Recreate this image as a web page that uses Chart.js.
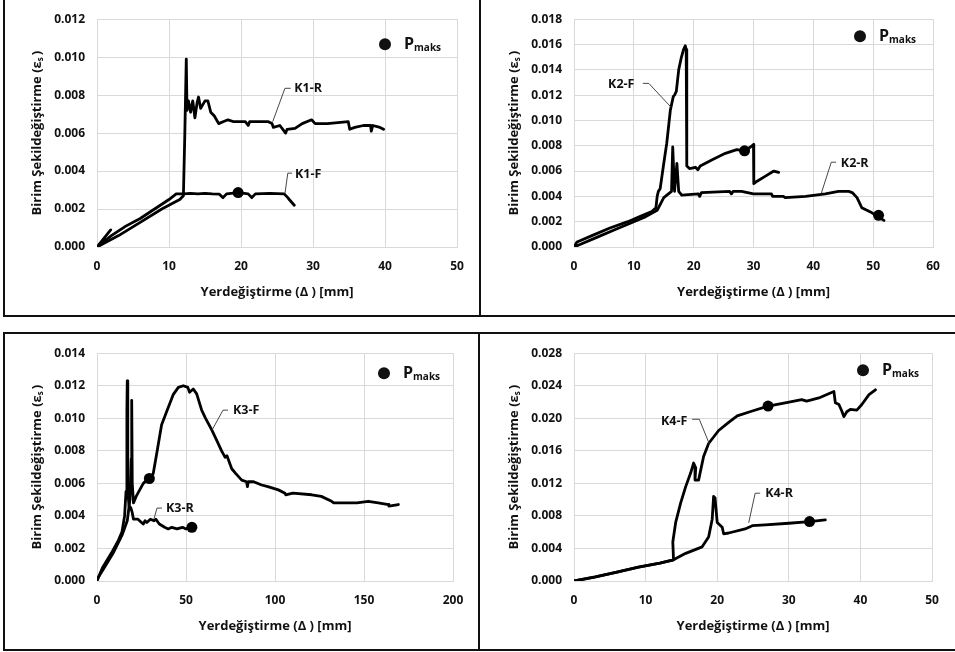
<!DOCTYPE html>
<html lang="tr">
<head>
<meta charset="utf-8">
<title>Birim şekildeğiştirme - yerdeğiştirme</title>
<script src="https://cdn.jsdelivr.net/npm/chart.js@4.4.1/dist/chart.umd.min.js"></script>
<style>
  body { margin: 0; background: #fff; }
  #sheet { position: relative; width: 955px; height: 652px; overflow: hidden; background: #fff; }
  #sheet canvas { position: absolute; }
  .rule { position: absolute; background: #111; }
</style>
</head>
<body>
<div id="sheet">
  <div class="rule" style="left:3px;top:0;width:2px;height:317px"></div>
  <div class="rule" style="left:479px;top:0;width:2px;height:317px"></div>
  <div class="rule" style="left:3px;top:315px;width:952px;height:2px"></div>
  <div class="rule" style="left:3px;top:332px;width:952px;height:2px"></div>
  <div class="rule" style="left:3px;top:332px;width:2px;height:319px"></div>
  <div class="rule" style="left:478px;top:332px;width:2px;height:319px"></div>
  <div class="rule" style="left:3px;top:649px;width:952px;height:2px"></div>

  <canvas id="c1" width="474" height="316" style="left:5px;top:0"></canvas>
  <canvas id="c2" width="474" height="316" style="left:481px;top:0"></canvas>
  <canvas id="c3" width="471" height="315" style="left:5px;top:334px"></canvas>
  <canvas id="c4" width="473" height="315" style="left:482px;top:334px"></canvas>
</div>

<script>
// ---- K1 ----
const k1xTicks = [0, 10, 20, 30, 40, 50];
const k1yTicks = [0, 0.002, 0.004, 0.006, 0.008, 0.010, 0.012];
const k1fX = [1.9, 0, 2, 4, 6, 8, 10, 11, 12, 13, 14, 15, 16, 17, 17.5, 18, 19.6, 21, 21.5, 22, 24, 26, 26.5, 26.7, 27.4];
const k1fY = [0.0009, 0, 0.0006, 0.0011, 0.0015, 0.0020, 0.0025, 0.0028, 0.0028, 0.00282, 0.0028, 0.00283, 0.0028, 0.00278, 0.0026, 0.0028, 0.00287, 0.0028, 0.0026, 0.0028, 0.00283, 0.0028, 0.0026, 0.0025, 0.0022];
const k1rX = [0, 3, 6, 9, 10.5, 11.5, 12, 12.2, 12.4, 12.5, 12.7, 13, 13.3, 13.6, 13.9, 14.1, 14.4, 15, 15.4, 15.8, 16.3, 16.9, 17.5, 18.2, 19, 20.6, 21, 21.2, 23.8, 24.3, 24.5, 25.4, 26.2, 26.4, 27.5, 28.5, 29.8, 30.3, 32, 34.9, 35.1, 35.8, 37, 38, 38.1, 38.3, 39.3, 39.8];
const k1rY = [0, 0.0006, 0.0013, 0.0020, 0.0023, 0.0025, 0.0027, 0.0060, 0.0099, 0.0072, 0.0077, 0.0071, 0.0077, 0.0068, 0.0076, 0.0079, 0.0073, 0.0077, 0.0077, 0.0071, 0.0069, 0.0065, 0.0066, 0.0067, 0.0066, 0.0066, 0.0064, 0.0066, 0.0066, 0.0065, 0.0063, 0.0064, 0.0060, 0.0062, 0.00625, 0.0065, 0.0067, 0.0065, 0.0065, 0.0066, 0.0062, 0.0063, 0.0064, 0.0064, 0.0061, 0.0064, 0.0063, 0.0062];
const k1pX = [19.6];
const k1pY = [0.00287];

// ---- K2 ----
const k2xTicks = [0, 10, 20, 30, 40, 50, 60];
const k2yTicks = [0, 0.002, 0.004, 0.006, 0.008, 0.010, 0.012, 0.014, 0.016, 0.018];
const k2fX = [0, 0.5, 1, 3, 6, 9, 11, 13, 13.7, 13.9, 14.1, 14.4, 15, 15.5, 16.1, 16.6, 16.8, 17.1, 17.5, 17.9, 18.3, 18.6, 18.75, 18.85, 19.3, 20.3, 20.7, 21.1, 23.1, 25.3, 27.2, 28.5, 29.5, 30.0, 30.05, 30.6, 32, 33.4, 34.2];
const k2fY = [0, 0.0004, 0.0005, 0.0009, 0.0015, 0.0020, 0.0024, 0.0028, 0.0031, 0.0040, 0.0044, 0.0046, 0.0066, 0.0082, 0.0108, 0.0119, 0.0120, 0.0123, 0.0140, 0.0149, 0.0156, 0.0159, 0.0156, 0.0064, 0.0062, 0.0063, 0.0061, 0.0064, 0.0069, 0.0074, 0.0077, 0.0076, 0.0079, 0.0081, 0.0050, 0.0052, 0.0056, 0.0060, 0.0059];
const k2rX = [0, 1, 4, 7, 10, 12, 13.9, 15, 16.3, 16.5, 16.8, 17.2, 17.5, 18, 20.8, 21, 21.3, 26, 26.3, 26.6, 28, 30, 33, 33.2, 35, 35.3, 38.7, 42, 44.2, 45.9, 46.5, 47.3, 48.1, 49.8, 50.8, 51.8];
const k2rY = [0, 0.0002, 0.0008, 0.0014, 0.0020, 0.0024, 0.0029, 0.0039, 0.0044, 0.0079, 0.0044, 0.0066, 0.0044, 0.0041, 0.0042, 0.0040, 0.0043, 0.0044, 0.0042, 0.0044, 0.0044, 0.0042, 0.0042, 0.0040, 0.0040, 0.0039, 0.0040, 0.0042, 0.0044, 0.0044, 0.0043, 0.0039, 0.0031, 0.0027, 0.0024, 0.0021];
const k2pX = [28.5, 50.9];
const k2pY = [0.0076, 0.0025];

// ---- K3 ----
const k3xTicks = [0, 50, 100, 150, 200];
const k3yTicks = [0, 0.002, 0.004, 0.006, 0.008, 0.010, 0.012, 0.014];
const k3rX = [0, 3, 8, 12, 14, 15.5, 16.3, 16.8, 17.0, 17.3, 18, 19, 19.8, 20.5, 21.5, 23, 25, 26, 27, 28, 30, 32, 33, 35, 38, 40, 42, 45, 48, 50, 53.3];
const k3rY = [0, 0.0008, 0.0017, 0.0025, 0.0030, 0.0040, 0.0055, 0.0105, 0.0123, 0.0055, 0.0046, 0.0045, 0.0042, 0.0038, 0.0038, 0.0038, 0.0036, 0.0035, 0.0037, 0.0036, 0.0038, 0.0037, 0.0038, 0.0035, 0.0033, 0.0032, 0.0033, 0.0032, 0.0033, 0.0032, 0.0033];
const k3fX = [0, 4, 9, 14, 17, 18.5, 19.2, 19.5, 19.8, 20.5, 22, 24, 26, 28, 29.4, 31.6, 33.5, 36.3, 39.1, 42.9, 45.7, 48.5, 51, 52, 54.1, 56, 58.8, 61, 64.4, 67, 70, 72, 73, 75.7, 78, 81.3, 84, 84.5, 85, 88, 92.5, 96, 101.9, 105.6, 106, 110, 120.6, 126, 131.8, 133, 141.2, 146, 152.4, 158, 163.7, 164, 169.3];
const k3fY = [0.0001, 0.0008, 0.0017, 0.0028, 0.0037, 0.0050, 0.0075, 0.0111, 0.0060, 0.0048, 0.0052, 0.0056, 0.0060, 0.0062, 0.0063, 0.0066, 0.0078, 0.0096, 0.0104, 0.01147, 0.0119, 0.0120, 0.0119, 0.0116, 0.0118, 0.0115, 0.0105, 0.0100, 0.0093, 0.0087, 0.0080, 0.0076, 0.0077, 0.0069, 0.0066, 0.0062, 0.0061, 0.0058, 0.0061, 0.0061, 0.0059, 0.0058, 0.0056, 0.0054, 0.0053, 0.0054, 0.0053, 0.0052, 0.0049, 0.0048, 0.0048, 0.0048, 0.0049, 0.0048, 0.0047, 0.0046, 0.0047];
const k3pX = [29.4, 53.3];
const k3pY = [0.0063, 0.0033];

// ---- K4 ----
const k4xTicks = [0, 10, 20, 30, 40, 50];
const k4yTicks = [0, 0.004, 0.008, 0.012, 0.016, 0.020, 0.024, 0.028];
const k4fX = [0, 3, 6, 9, 12, 13.9, 13.8, 14.2, 14.9, 15.6, 16.3, 16.7, 17.0, 16.9, 17.4, 18.1, 18.8, 20.2, 21.6, 22.8, 24.9, 27.1, 29.5, 31.8, 32.5, 34.2, 36.3, 36.5, 37.0, 37.4, 37.7, 38.1, 38.6, 39.5, 40.2, 41.2, 42.1];
const k4fY = [0, 0.0005, 0.0011, 0.0017, 0.0022, 0.0026, 0.0048, 0.0072, 0.0096, 0.0116, 0.0133, 0.0145, 0.0139, 0.0124, 0.0124, 0.0153, 0.0169, 0.0185, 0.0195, 0.0203, 0.0209, 0.0215, 0.0219, 0.0223, 0.0221, 0.0225, 0.0233, 0.0219, 0.0217, 0.0209, 0.0202, 0.0208, 0.0211, 0.0210, 0.0217, 0.0229, 0.0235];
const k4rX = [0, 3, 6, 9, 12, 13.9, 15.6, 17.9, 18.8, 19.3, 19.5, 19.7, 20.0, 20.7, 20.9, 21.6, 23.9, 24.9, 26.7, 30, 32.9, 35.1];
const k4rY = [0, 0.0005, 0.0011, 0.0017, 0.0022, 0.0026, 0.0034, 0.0042, 0.0054, 0.0076, 0.0104, 0.0102, 0.0072, 0.0066, 0.0058, 0.0059, 0.0064, 0.0068, 0.0069, 0.0071, 0.0073, 0.0075];
const k4pX = [27.1, 32.9];
const k4pY = [0.0215, 0.0073];

const FONT = "'Open Sans', 'DejaVu Sans', sans-serif";
const INK = '#111';
const GRID = '#d9d9d9';

const pts = (xs, ys) => xs.map((x, i) => ({ x, y: ys[i] }));

// axis titles, curve callouts and the P_maks key
const panelDecor = {
  id: 'panelDecor',
  afterDraw(chart, args, opts) {
    const { ctx, chartArea: a, scales } = chart;
    const sx = v => scales.x.getPixelForValue(v);
    const sy = v => scales.y.getPixelForValue(v);
    ctx.save();
    ctx.fillStyle = INK;

    // x title
    ctx.font = `bold 13px ${FONT}`;
    ctx.textAlign = 'center';
    ctx.textBaseline = 'middle';
    ctx.fillText('Yerdeğiştirme (\u0394 ) [mm]', (a.left + a.right) / 2, a.bottom + 45);

    // y title with subscript
    ctx.save();
    ctx.translate(a.left - 60, (a.top + a.bottom) / 2);
    ctx.rotate(-Math.PI / 2);
    const main = 'Birim Şekildeğiştirme (\u03b5';
    ctx.font = `bold 13px ${FONT}`;
    const w1 = ctx.measureText(main).width;
    const w3 = ctx.measureText(')').width;
    ctx.font = `bold 8px ${FONT}`;
    const w2 = ctx.measureText('s').width;
    let x0 = -(w1 + w2 + w3 + 2) / 2;
    ctx.textAlign = 'left';
    ctx.font = `bold 13px ${FONT}`;
    ctx.fillText(main, x0, 0);
    ctx.font = `bold 8px ${FONT}`;
    ctx.fillText('s', x0 + w1, 4);
    ctx.font = `bold 13px ${FONT}`;
    ctx.fillText(')', x0 + w1 + w2 + 2, 0);
    ctx.restore();

    // callouts
    ctx.strokeStyle = '#333';
    ctx.lineWidth = 0.9;
    ctx.font = `bold 12.5px ${FONT}`;
    ctx.textAlign = 'left';
    for (const c of opts.callouts) {
      ctx.beginPath();
      c.path.forEach(([x, y], i) => i ? ctx.lineTo(sx(x), sy(y)) : ctx.moveTo(sx(x), sy(y)));
      ctx.stroke();
      ctx.fillText(c.text, sx(c.at[0]), sy(c.at[1]));
    }

    // key
    const kx = a.right + opts.key[0], ky = a.top + opts.key[1];
    ctx.beginPath();
    ctx.arc(kx, ky, 6, 0, Math.PI * 2);
    ctx.fill();
    ctx.font = `bold 16px ${FONT}`;
    ctx.fillText('P', kx + 19, ky);
    const pw = ctx.measureText('P').width;
    ctx.font = `bold 10px ${FONT}`;
    ctx.fillText('maks', kx + 19 + pw, ky + 4);
    ctx.restore();
  }
};

function makeChart(p) {
  const datasets = p.series.map(([xs, ys]) => ({
    data: pts(xs, ys),
    showLine: true,
    borderColor: '#000',
    borderWidth: 2.8,
    pointRadius: 0,
    borderJoinStyle: 'round',
    borderCapStyle: 'round',
    order: 2
  }));
  datasets.push({
    data: pts(p.pmaks[0], p.pmaks[1]),
    showLine: false,
    pointRadius: 5.5,
    pointBackgroundColor: '#000',
    pointBorderWidth: 0,
    order: 1
  });
  const fixTicks = list => scale => { scale.ticks = list.map(v => ({ value: v })); };
  new Chart(document.getElementById(p.id), {
    type: 'scatter',
    data: { datasets },
    plugins: [panelDecor],
    options: {
      responsive: false,
      animation: false,
      layout: { autoPadding: false, padding: { left: 0, top: p.box.top, right: p.box.right, bottom: 0 } },
      plugins: {
        legend: { display: false },
        tooltip: { enabled: false },
        panelDecor: { callouts: p.callouts, key: p.key }
      },
      scales: {
        x: {
          type: 'linear',
          min: p.xTicks[0],
          max: p.xTicks[p.xTicks.length - 1],
          afterBuildTicks: fixTicks(p.xTicks),
          afterFit: s => { s.height = p.box.bottom; },
          grid: { color: GRID, drawTicks: false },
          border: { color: GRID },
          ticks: { color: INK, padding: 12, font: { family: FONT, size: 12, weight: 'bold' } }
        },
        y: {
          type: 'linear',
          min: p.yTicks[0],
          max: p.yTicks[p.yTicks.length - 1],
          afterBuildTicks: fixTicks(p.yTicks),
          afterFit: s => { s.width = p.box.left; },
          grid: { color: GRID, drawTicks: false },
          border: { color: GRID },
          ticks: { color: INK, padding: 12, font: { family: FONT, size: 12, weight: 'bold' },
                   callback: v => v.toFixed(3) }
        }
      }
    }
  });
}

makeChart({
  id: 'c1', xTicks: k1xTicks, yTicks: k1yTicks,
  series: [[k1fX, k1fY], [k1rX, k1rY]], pmaks: [k1pX, k1pY],
  box: { left: 92, top: 16, right: 22, bottom: 69 },
  key: [-72, 25],
  callouts: [
    { text: 'K1-R', at: [27.4, 0.00836], path: [[26.9, 0.00836], [26.1, 0.00836], [24.4, 0.0066]] },
    { text: 'K1-F', at: [27.5, 0.0038], path: [[27.1, 0.00389], [26.5, 0.00389], [26.1, 0.0028]] }
  ]
});

makeChart({
  id: 'c2', xTicks: k2xTicks, yTicks: k2yTicks,
  series: [[k2fX, k2fY], [k2rX, k2rY]], pmaks: [k2pX, k2pY],
  box: { left: 93, top: 16, right: 22, bottom: 69 },
  key: [-73, 17],
  callouts: [
    { text: 'K2-F', at: [5.7, 0.01286], path: [[11.5, 0.01293], [12.5, 0.01293], [16.2, 0.01106]] },
    { text: 'K2-R', at: [44.6, 0.00662], path: [[43.8, 0.0067], [43.0, 0.0067], [41.3, 0.0042]] }
  ]
});

makeChart({
  id: 'c3', xTicks: k3xTicks, yTicks: k3yTicks,
  series: [[k3rX, k3rY], [k3fX, k3fY]], pmaks: [k3pX, k3pY],
  box: { left: 92, top: 16, right: 23, bottom: 68 },
  key: [-69, 20],
  callouts: [
    { text: 'K3-F', at: [76.4, 0.0105], path: [[73.6, 0.0105], [70.8, 0.0105], [64.6, 0.00927]] },
    { text: 'K3-R', at: [38.8, 0.00448], path: [[36.5, 0.00448], [33.7, 0.00448], [32.0, 0.00382]] }
  ]
});

makeChart({
  id: 'c4', xTicks: k4xTicks, yTicks: k4yTicks,
  series: [[k4fX, k4fY], [k4rX, k4rY]], pmaks: [k4pX, k4pY],
  box: { left: 92, top: 16, right: 23, bottom: 68 },
  key: [-69, 17],
  callouts: [
    { text: 'K4-F', at: [12.15, 0.01964], path: [[16.5, 0.01988], [17.5, 0.01988], [18.9, 0.01685]] },
    { text: 'K4-R', at: [26.7, 0.01079], path: [[26.0, 0.01079], [25.3, 0.01079], [24.4, 0.00715]] }
  ]
});
</script>
</body>
</html>
